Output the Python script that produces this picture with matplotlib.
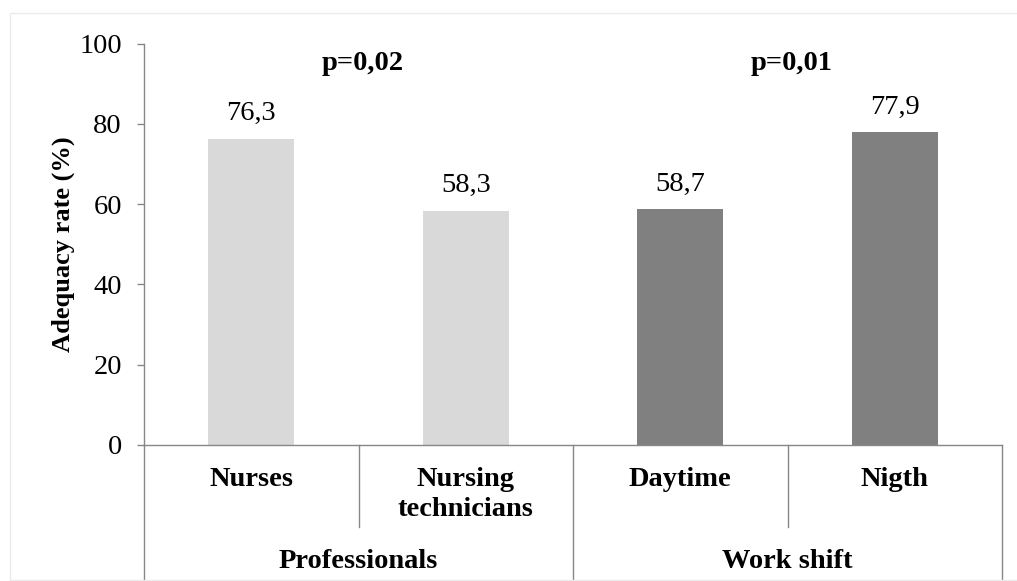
import matplotlib
matplotlib.use("Agg")
import matplotlib.pyplot as plt
import matplotlib.transforms as mtransforms
from matplotlib.patches import Rectangle

categories = ["Nurses", "Nursing\ntechnicians", "Daytime", "Nigth"]
values = [76.3, 58.3, 58.7, 77.9]
value_labels = ["76,3", "58,3", "58,7", "77,9"]
groups = ["Professionals", "Work shift"]
group_pvalues = ["p=0,02", "p=0,01"]
colors = ["#D9D9D9", "#D9D9D9", "#808080", "#808080"]
yticks = [0, 20, 40, 60, 80, 100]

plt.rcParams["font.family"] = ["Liberation Serif", "DejaVu Serif"]
FS = 20.5
W, H = 1017, 581
fig = plt.figure(figsize=(W / 100, H / 100), dpi=100)
ax = fig.add_axes([144 / W, 1 - 445 / H, (1002 - 144) / W, (445 - 43.5) / H])

axis_col = "#878787"
x = list(range(len(categories)))
ax.bar(x, values, width=0.40, color=colors, zorder=2)
ax.set_xlim(-0.5, len(categories) - 0.5)
ax.set_ylim(0, 100)
ax.set_yticks(yticks)
ax.set_yticklabels([str(t) for t in yticks])
ax.tick_params(axis="y", direction="out", length=5, width=1, color=axis_col,
               labelsize=FS, pad=11)
ax.set_xticks([])
for s in ["top", "right"]:
    ax.spines[s].set_visible(False)
ax.spines["left"].set_color(axis_col)
ax.spines["bottom"].set_color(axis_col)
ax.spines["left"].set_linewidth(1)
ax.spines["bottom"].set_linewidth(1)

ax.set_ylabel("Adequacy rate (%)", fontsize=19, fontweight="bold")
ax.yaxis.set_label_coords(-0.081, 0.5)

# value labels
for xi, v, lab in zip(x, values, value_labels):
    ax.annotate(lab, (xi, v), xytext=(0, 13.5), textcoords="offset points",
                ha="center", va="baseline", fontsize=FS)

# p-values over groups
for gi, p in enumerate(group_pvalues):
    ax.text(gi * 2 + 0.52, 93.4, p, ha="center", va="baseline",
            fontsize=FS, fontweight="bold")

# multi-level category axis
trans = mtransforms.blended_transform_factory(ax.transData, fig.transFigure)
def fy(py):
    return 1 - py / H

y0 = 445
for b in [-0.5, 1.5, 3.5]:
    ax.plot([b, b], [fy(y0), fy(H)], transform=trans, color=axis_col,
            lw=1, clip_on=False)
for b in [0.5, 2.5]:
    ax.plot([b, b], [fy(y0), fy(527)], transform=trans, color=axis_col,
            lw=1, clip_on=False)

for xi, c in zip(x, categories):
    ax.text(xi, fy(467), c, transform=trans, ha="center", va="top",
            fontsize=FS, fontweight="bold", linespacing=1.27)
for gi, g in enumerate(groups):
    ax.text(gi * 2 + 0.5, fy(561), g, transform=trans, ha="center",
            va="center", fontsize=FS, fontweight="bold")

# faint outer chart frame
fig.patches.append(Rectangle((10 / W, fy(580)), (W + 5 - 10) / W,
                             (580 - 13) / H, transform=fig.transFigure,
                             fill=False, edgecolor="#EBEBEB", lw=1))

fig.savefig("out.png", dpi=100)
